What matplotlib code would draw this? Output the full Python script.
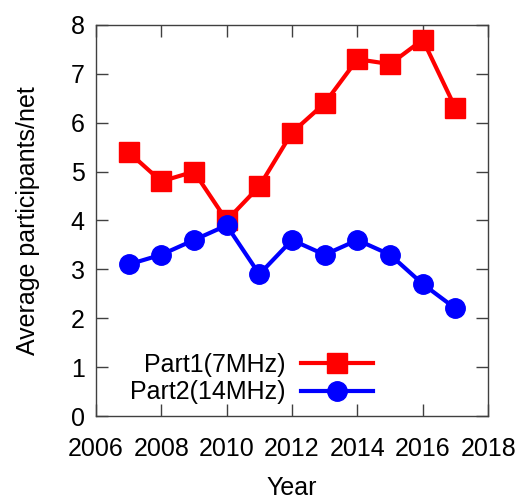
import numpy as np
import matplotlib.pyplot as plt

years = [2007, 2008, 2009, 2010, 2011, 2012, 2013, 2014, 2015, 2016, 2017]
part1 = [5.4, 4.8, 5.0, 4.0, 4.7, 5.8, 6.4, 7.3, 7.2, 7.7, 6.3]
part2 = [3.1, 3.3, 3.6, 3.9, 2.9, 3.6, 3.3, 3.6, 3.3, 2.7, 2.2]
labels = ['Part1(7MHz)', 'Part2(14MHz)']

plt.rcParams['font.family'] = ['Liberation Sans', 'DejaVu Sans']
plt.rcParams['font.size'] = 18

fig = plt.figure(figsize=(5.21, 5.0), dpi=100)
ax = fig.add_axes([0.184, 0.168, 0.753, 0.782])

ax.plot(years, part1, color='#ff0000', lw=3, marker='s', ms=14, label=labels[0])
ax.plot(years, part2, color='#0000ff', lw=3, marker='o', ms=14, label=labels[1])

ax.set_xlim(2006, 2018)
ax.set_ylim(0, 8)
ax.set_xticks(np.arange(2006, 2019, 2))
ax.set_yticks(np.arange(0, 9, 1))
ax.tick_params(direction='in', length=8.5, width=1, color='#404040',
               top=True, right=True, pad=8)
ax.tick_params(axis='x', pad=15)
for s in ax.spines.values():
    s.set_color('#404040')
    s.set_linewidth(1)

ax.set_xlabel('Year', labelpad=11)
ax.set_ylabel('Average participants/net', labelpad=22)

ax.legend(loc='lower right', bbox_to_anchor=(0.707, 0.03), frameon=False,
          markerfirst=False, handlelength=2.9, handletextpad=0.6,
          labelspacing=0.15, borderpad=0, borderaxespad=0)

plt.savefig('out.png', dpi=100)
